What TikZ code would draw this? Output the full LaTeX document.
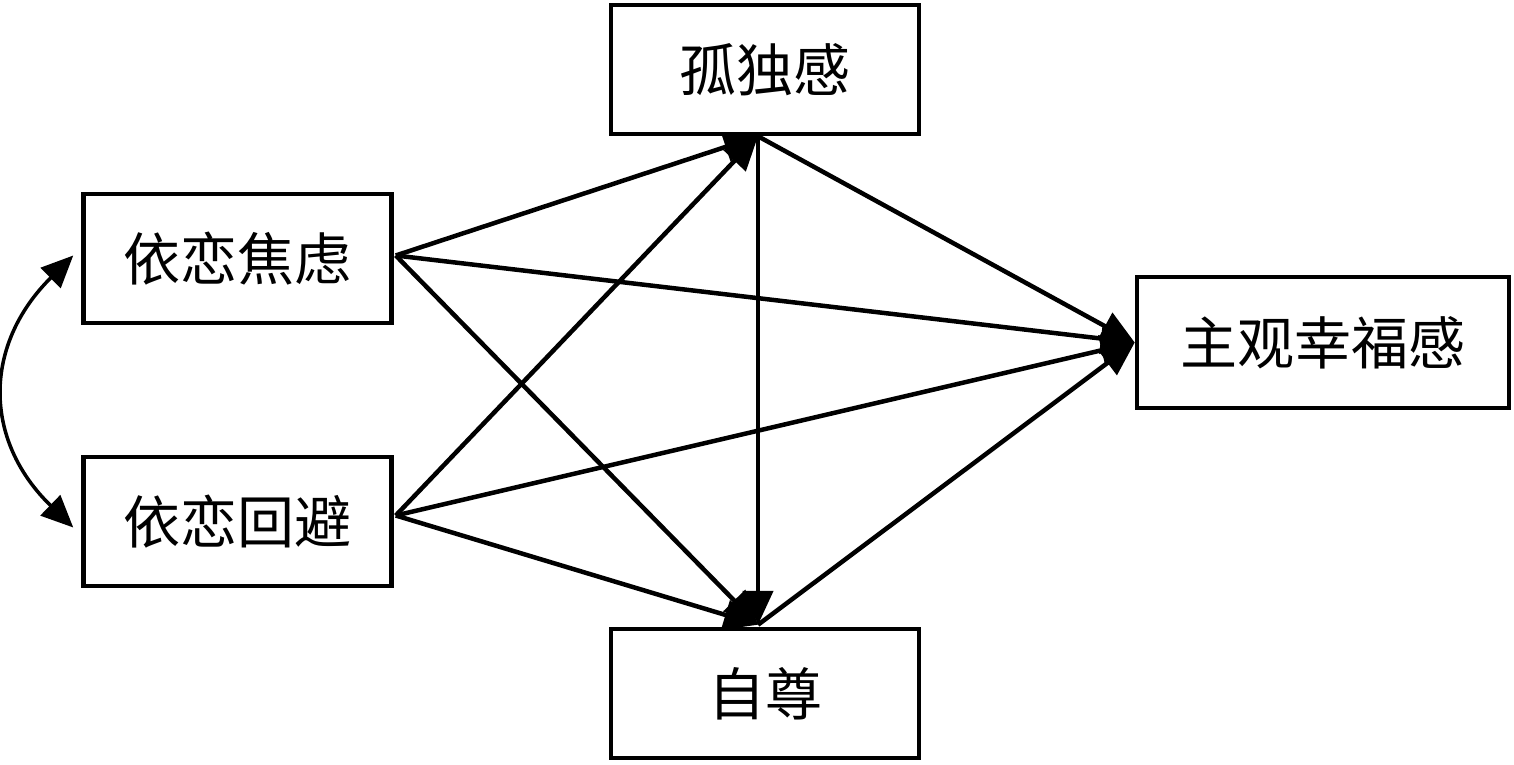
\documentclass[tikz,border=0pt]{standalone}
\usepackage{fontspec}
\newfontfamily\cjk{Noto Sans CJK SC}
\usetikzlibrary{arrows.meta}
\begin{document}
\begin{tikzpicture}[x=1pt,y=-1pt,
  box/.style={draw, line width=4.5pt, inner sep=0pt, minimum width=308pt, minimum height=129pt,
    font=\cjk\fontsize{57}{60}\selectfont},
  arr/.style={line width=4.5pt, -{Triangle[length=34pt,width=30pt]}},
  dbl/.style={line width=3.5pt, {Triangle[length=32pt,width=28pt]}-{Triangle[length=32pt,width=28pt]}}]
\useasboundingbox (0,0) rectangle (1514,765);
\node[box] (L) at (765,69.5) {孤独感};
\node[box] (A) at (237.5,258.5) {依恋焦虑};
\node[box] (V) at (237.5,521.5) {依恋回避};
\node[box, minimum width=372pt, minimum height=131pt] (W) at (1323,342.5) {主观幸福感};
\node[box] (S) at (765,693.5) {自尊};
\coordinate (Lb) at ([xshift=-7pt]L.south);
\coordinate (Sn) at ([xshift=-7pt,yshift=2pt]S.north);
\coordinate (Ae) at ([xshift=2pt,yshift=3pt]A.east);
\coordinate (Ve) at ([xshift=2pt,yshift=6pt]V.east);
\coordinate (Aw) at ([xshift=-8pt,yshift=3pt]A.west);
\coordinate (Vw) at ([xshift=-8pt,yshift=-6pt]V.west);
\draw[arr] (Ae) -- (Lb);
\draw[arr] (Ae) -- (W.west);
\draw[arr] (Ae) -- (Sn);
\draw[arr] (Ve) -- (Lb);
\draw[arr] (Ve) -- (W.west);
\draw[arr] (Ve) -- (Sn);
\draw[arr] (Lb) -- (Sn);
\draw[arr] (Lb) -- (W.west);
\draw[arr] (Sn) -- (W.west);
\draw[dbl] (Aw) .. controls (-17,345) and (-17,440) .. (Vw);
\end{tikzpicture}
\end{document}
